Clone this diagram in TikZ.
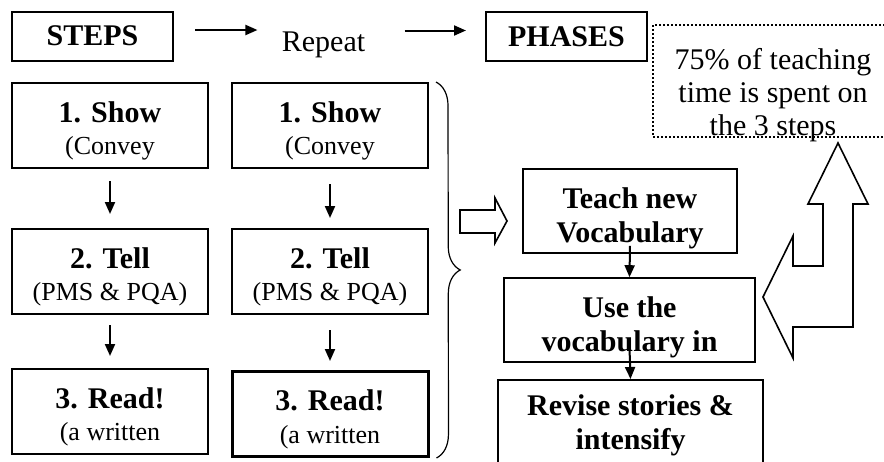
\documentclass[tikz,border=0pt]{standalone}
\usepackage{fontspec}
\setmainfont{Liberation Serif}
\usetikzlibrary{arrows.meta,positioning,decorations.pathreplacing}

\newcommand{\subline}[1]{{\fontsize{13}{15}\selectfont #1}}

\begin{document}
\begin{tikzpicture}[
    x=0.5pt, y=-0.5pt,
    box/.style={draw, line width=1pt, minimum width=98pt, minimum height=42.5pt, inner sep=0pt, align=center, font=\fontsize{15}{16.25}\selectfont, text height=29pt, text depth=0pt},
    hdr/.style={draw, line width=1pt, minimum width=80.5pt, minimum height=24.5pt, inner sep=0pt, font=\fontsize{15}{16.5}\selectfont\bfseries},
    phasebox/.style={draw, line width=0.8pt, inner sep=0pt, align=center, font=\fontsize{15}{17}\selectfont\bfseries},
    notebox/.style={draw, dash pattern=on 1pt off 1pt, line width=1pt, minimum width=120pt, minimum height=56pt, inner sep=0pt},
    arrow/.style={-{Triangle[length=6pt,width=5pt]}, line width=1pt},
    hollow/.style={draw, line width=0.8pt, line join=miter}
]
\clip (0,0) rectangle (884,461);

% ===== HEADER ROW =====
\node[hdr] (steps) at (92.5,36) {STEPS};
\node[inner sep=0pt, font=\fontsize{15}{16.5}\selectfont] (repeat) at (323.5,45) {Repeat};
\node[hdr] (phases) at (566.5,36.5) {PHASES};

\draw[arrow] ([shift={(10.5pt,3pt)}]steps.east) -- ([shift={(-12pt,3pt)}]steps.east -| repeat.west);
\draw[arrow] ([shift={(19.5pt,3pt)}]phases.west -| repeat.east) -- ([shift={(-9.5pt,3pt)}]phases.west);

% ===== STEPS, FIRST ROUND =====
\node[box] (show1) at (110,125.5) {\textbf{1. Show}\\\subline{(Convey}};
\node[box, below=29.5pt of show1] (tell1) {\textbf{2. Tell}\\\subline{(PMS \& PQA)}};
\node[box, below=26.5pt of tell1] (read1) {\textbf{3. Read!}\\\subline{(a written}};

\draw[arrow, shorten <=6pt, shorten >=7pt] (show1) -- (tell1);
\draw[arrow, shorten <=5pt, shorten >=6pt] (tell1) -- (read1);

% ===== STEPS, SECOND ROUND =====
\node[box, right=11pt of show1] (show2) {\textbf{1. Show}\\\subline{(Convey}};
\node[box, below=29.5pt of show2] (tell2) {\textbf{2. Tell}\\\subline{(PMS \& PQA)}};
\node[box, line width=1.5pt, below=27.5pt of tell2] (read2) {\textbf{3. Read!}\\\subline{(a written}};

\draw[arrow, shorten <=7.5pt, shorten >=5pt] (show2) -- (tell2);
\draw[arrow, shorten <=7.5pt, shorten >=4.5pt] (tell2) -- (read2);

\draw[decorate, decoration={brace, amplitude=12pt}, line width=0.6pt]
    ([xshift=3.5pt]show2.north east) -- ([xshift=3.5pt]read2.south east);

% hollow arrow into the phases
\draw[hollow] (460,210) -- (495,210) -- (495,198) -- (507,221) -- (495,243) -- (495,233) -- (460,233) -- cycle;

% ===== PHASES =====
\node[phasebox, text height=31pt, text depth=0pt, minimum width=107pt, minimum height=42pt] (teach) at (630,211) {Teach new\\Vocabulary};
\node[phasebox, text height=31pt, text depth=0pt, minimum width=125.5pt, minimum height=42pt] (use) at (629.5,320) {Use the\\vocabulary in};
\node[phasebox, anchor=north, minimum width=132.5pt, minimum height=45.5pt] (revise) at (630.5,379) {Revise stories \&\\intensify};

\draw[arrow] ([yshift=4pt]teach.south) -- (use.north);
\draw[arrow] ([yshift=7.5pt]use.south) -- (revise.north);

% ===== NOTE =====
\node[notebox] (note) at (773,81) {};
\node[inner sep=0pt, anchor=north, align=center, font=\fontsize{15}{16.5}\selectfont] (notetxt) at ([yshift=-12pt]note.north) {75\% of teaching\\time is spent on\\the 3 steps};

% turn-back arrow
\draw[hollow] (763,297) -- (793,236) -- (793,266) -- (823,266) -- (823,204) -- (808,204) -- (838,143)
    -- (868,204) -- (853,204) -- (853,327) -- (793,327) -- (793,358) -- cycle;

\end{tikzpicture}
\end{document}
